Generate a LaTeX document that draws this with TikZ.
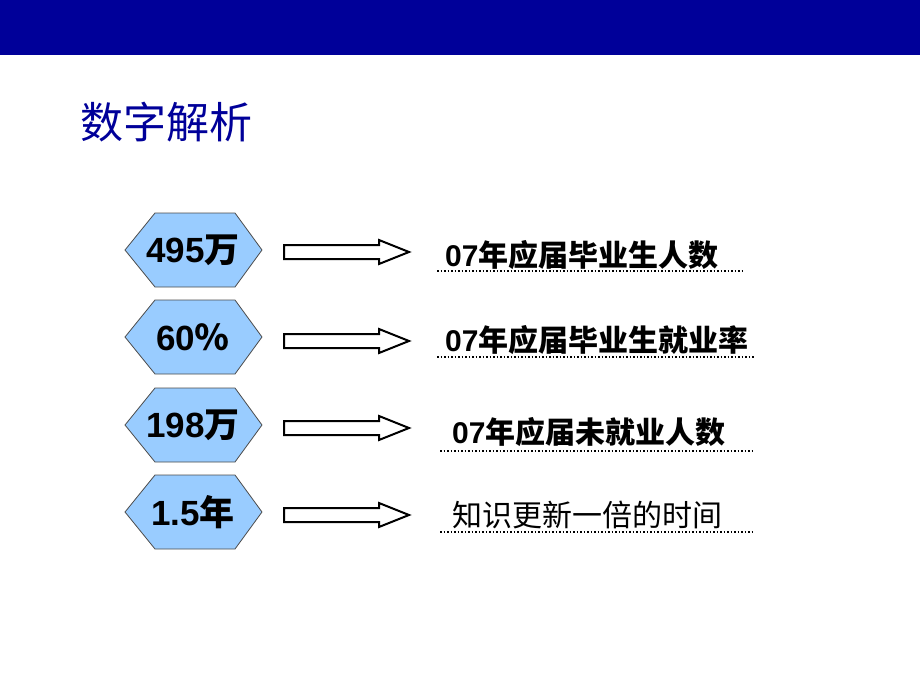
\documentclass[tikz,border=0pt]{standalone}
\usepackage{fontspec}
\setmainfont{Liberation Sans}
\newfontfamily\cjk{Noto Sans CJK SC}
\newcommand{\zh}[1]{{\cjk #1}}
\definecolor{barblue}{HTML}{000099}
\definecolor{hexfill}{HTML}{99CCFF}
\begin{document}
\begin{tikzpicture}[x=1pt,y=-1pt,
  hexa/.style={fill=hexfill,draw=black!70,line width=0.8pt},
  arr/.style={fill=white,draw=black,line width=2pt,line join=miter},
  lbl/.style={anchor=west,font=\fontsize{30}{34}\selectfont\bfseries,inner sep=0},
  htxt/.style={font=\fontsize{35}{38}\selectfont\bfseries},
  uline/.style={dotted,line width=1.5pt}]
\useasboundingbox (0,0) rectangle (920,690);
\fill[barblue] (0,0) rectangle (920,55);
\node[anchor=west,text=barblue,font=\fontsize{43}{46}\selectfont\cjk,inner sep=0] (title) at (80,122) {数字解析};
\foreach \yc/\ya/\t/\tx/\ty/\ux/\uy/\ue [count=\i] in
  {250/252/495\zh{万}/445/255/437/271/745,
   337/341/60\zh{％}/445/340/437/357/755,
   425/428/198\zh{万}/452/432/440/451/752,
   512/515/1.5\zh{年}/452/515/440/532/752}{
  \draw[hexa] (125,\yc) -- (155,\yc-37) -- (235,\yc-37) -- (262,\yc) -- (235,\yc+37) -- (155,\yc+37) -- cycle;
  \node[htxt] (h\i) at (193,\yc) {\t};
  \draw[arr] (284,\ya-7) -- (379,\ya-7) -- (379,\ya-12) -- (409,\ya) -- (379,\ya+12) -- (379,\ya+7) -- (284,\ya+7) -- cycle;
  \coordinate (us\i) at (\ux,\uy);
  \coordinate (ue\i) at (\ue,\uy);
  \draw[uline] (us\i) -- (ue\i);
}
\node[lbl] (t1) at (445,255) {07\zh{年应届毕业生人数}};
\node[lbl] (t2) at (445,340) {07\zh{年应届毕业生就业率}};
\node[lbl] (t3) at (452,432) {07\zh{年应届未就业人数}};
\node[lbl,font=\fontsize{30}{34}\selectfont\cjk] (t4) at (452,515) {知识更新一倍的时间};
\end{tikzpicture}
\end{document}
